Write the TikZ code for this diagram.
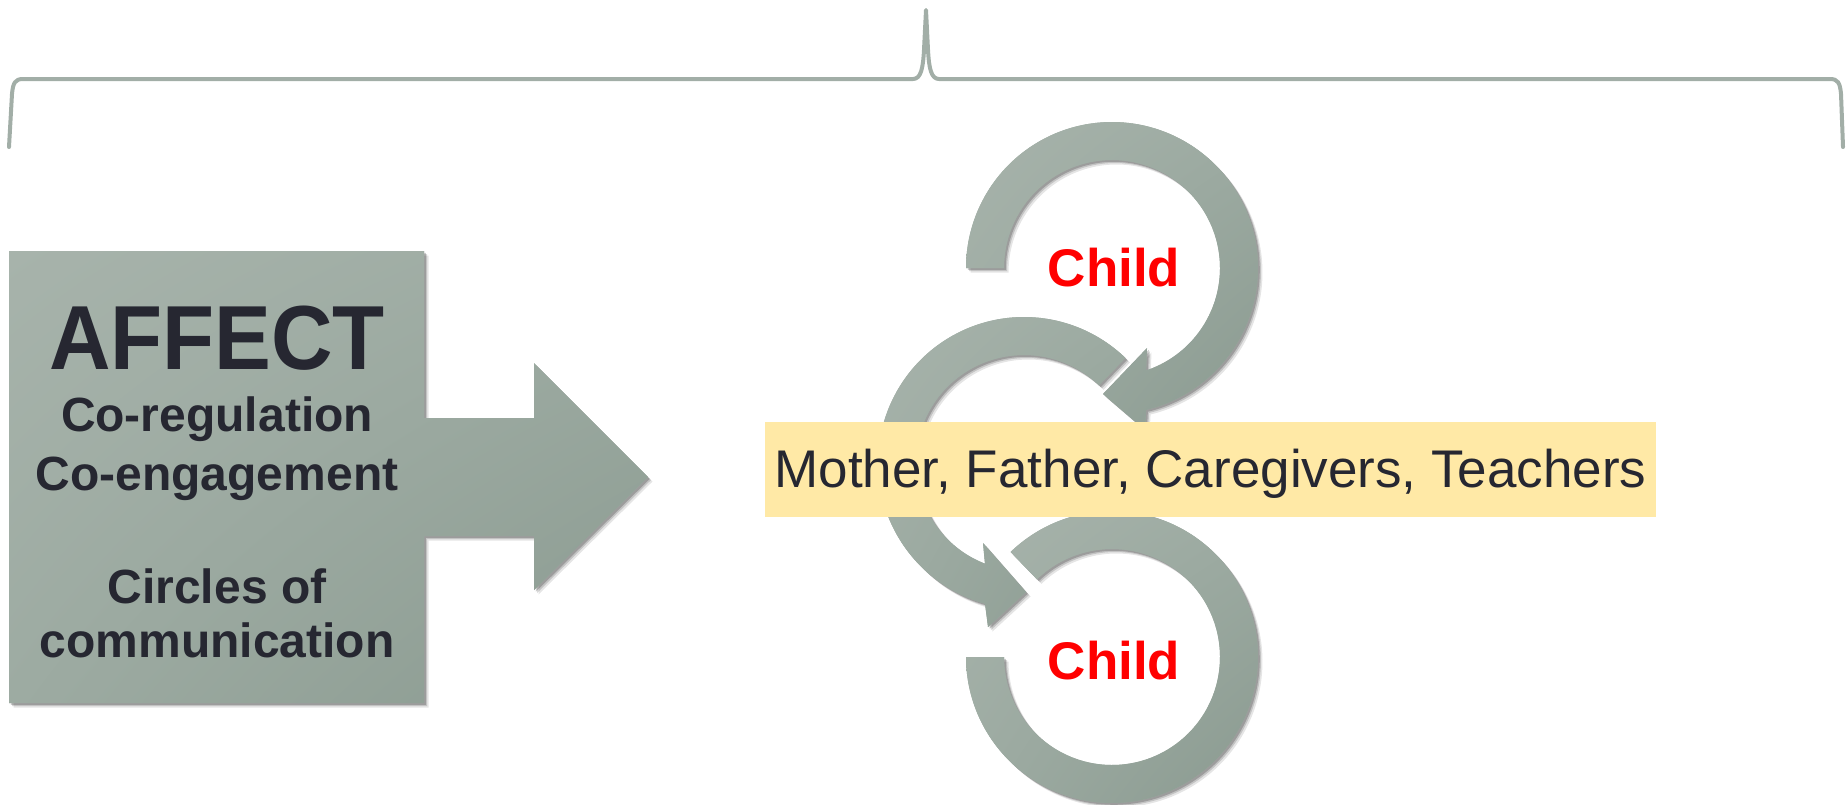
\documentclass[tikz,border=0pt]{standalone}
\usepackage{fontspec}
\setmainfont{Liberation Sans}
\newfontfamily\affectfont[FakeStretch=0.936]{Liberation Sans}
\usetikzlibrary{shadows,shadings}
\definecolor{txt}{HTML}{262731}
\definecolor{gl}{HTML}{A7B3AB}
\definecolor{gm}{HTML}{9DABA2}
\definecolor{gd}{HTML}{8A9A90}
\definecolor{brc}{HTML}{A2AEA7}
\definecolor{yel}{HTML}{FFE9A6}
\definecolor{kidred}{HTML}{FF0000}
\begin{document}
\begin{tikzpicture}[x=1pt,y=1pt,
  greyshape/.style={
    general shadow={shadow xshift=4.5pt, shadow yshift=-4.5pt, opacity=0.10, fill=black},
    general shadow={shadow xshift=3pt, shadow yshift=-3pt, opacity=0.15, fill=black},
    general shadow={shadow xshift=1.8pt, shadow yshift=-1.8pt, opacity=0.2, fill=black},
    preaction={fill=gm},
    upper left=gl, upper right=gm, lower left=gm, lower right=gd},
  bracestyle/.style={draw=brc, line width=4pt, line join=round, line cap=round},
  boldtxt/.style={text=txt, font=\bfseries\fontsize{48pt}{56pt}\selectfont, anchor=base, inner sep=0pt},
  childtxt/.style={text=kidred, font=\bfseries\fontsize{53pt}{60pt}\selectfont, anchor=base, inner sep=0pt},
  famlabel/.style={fill=yel, text=txt, font=\fontsize{53pt}{60pt}\selectfont, anchor=base,
    inner xsep=0pt, inner ysep=0pt, text height=65pt, text depth=30pt, minimum width=891pt}
]
\useasboundingbox (0,0) rectangle (1847,-804);

% brace
\draw[bracestyle] (9,-147) -- (12,-94) .. controls (13,-83) and (15,-79) .. (23,-79)
  -- (913,-79) .. controls (921,-79) and (923,-68) .. (924,-50) -- (926,-10)
  -- (928,-50) .. controls (929,-68) and (931,-79) .. (939,-79)
  -- (1830,-79) .. controls (1838,-79) and (1840,-83) .. (1841,-94) -- (1843,-147);

% block arrow
\path[greyshape] (9,-251) -- (424,-251) -- (424,-418) -- (534,-418) -- (534,-363)
  -- (648,-477) -- (534,-590) -- (534,-536) -- (424,-536) -- (424,-703) -- (9,-703) -- cycle;

\node[boldtxt, font=\affectfont\bfseries\fontsize{91pt}{96pt}\selectfont] (affect) at (217,-369) {AFFECT};
\node[boldtxt] (coreg) at (217,-431) {Co-regulation};
\node[boldtxt] (coeng) at (217,-490) {Co-engagement};
\node[boldtxt] (circles) at (217,-603) {Circles of};
\node[boldtxt] (comm) at (217,-657) {communication};

% top circular arrow
\path[greyshape] plot[domain=-180:-436.5, samples=150] ({1112+146*cos(\x)},{-268+146*sin(\x)})
  -- (1145,-430) -- (1103,-394) -- (1147,-348)
  -- plot[domain=-431.6:-180, samples=150] ({1112+108*cos(\x)},{-268+108*sin(\x)}) -- cycle;

% middle circular arrow
\path[greyshape] plot[domain=-314:-105.5, samples=130] ({1024+146*cos(\x)},{-463+146*sin(\x)})
  -- (988,-627) -- (1026,-592) -- (983,-543)
  -- plot[domain=-111.2:-314, samples=130] ({1024+108*cos(\x)},{-463+108*sin(\x)}) -- cycle;

% bottom circular band
\path[greyshape] plot[domain=-226:-540, samples=180] ({1112+146*cos(\x)},{-657+146*sin(\x)})
  -- plot[domain=-540:-226, samples=180] ({1112+108*cos(\x)},{-657+108*sin(\x)}) -- cycle;

\node[childtxt] (childtop) at (1114,-286) {Child};
\node[childtxt] (childbot) at (1114,-679) {Child};

\node[famlabel] (family) at (1210.5,-487) {Mother, Father, Caregivers, Teachers};
\end{tikzpicture}
\end{document}
